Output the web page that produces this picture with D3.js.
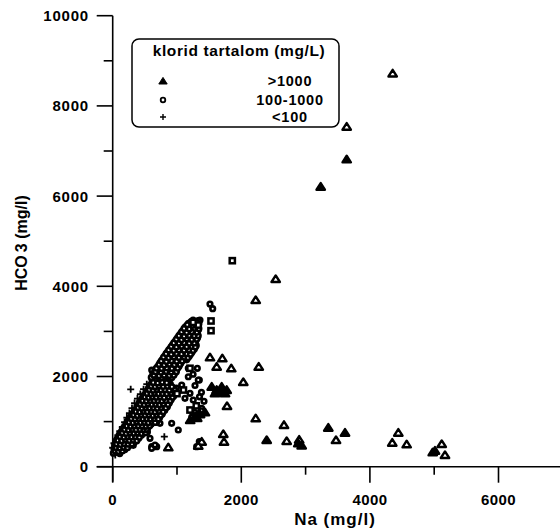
<!DOCTYPE html>
<html><head><meta charset="utf-8">
<script src="https://cdn.jsdelivr.net/npm/d3@7"></script>
<style>
body{margin:0;background:#fff;}
text{font-family:"Liberation Sans",Arial,sans-serif;font-weight:bold;fill:#000;}
</style></head><body>
<svg id="c" width="560" height="529"></svg>
<script>
// Na (mg/l), HCO3 (mg/l)
const triOpen = [[4354,8720],[3639,7539],[2535,4162],[2224,3696],[1513,2426],[1705,2404],[1617,2217],[1844,2182],[2271,2217],[2031,1878],[1778,1346],[2224,1073],[2664,925],[2706,570],[1720,725],[1731,554],[1384,554],[1331,466],[865,430],[3473,592],[4442,754],[4348,532],[4572,497],[5117,503],[5168,259],[2900,600]];
const triFilled = [[3639,6816],[3235,6208],[2395,592],[3353,865],[3613,754],[5012,355],[4977,319],[1540,1774],[1617,1701],[1695,1774],[1773,1701],[1591,1627],[1747,1627],[1660,1660],[2886,518],[2939,470],[1283,1117],[1358,1161],[1435,1206],[1205,1035],[1314,1080]];
const circles = [[1513,3608],[1555,3503],[1176,2182],[1316,2182],[1347,1922],[607,2144],[736,2182],[607,443],[684,443],[580,924],[735,962],[917,962],[1020,814],[580,630],[606,408],[658,481],[114,740],[140,592],[1073,1811],[1202,1627],[1124,1516],[1331,1922],[1253,1479],[1384,1295],[1409,1184],[1347,554],[1306,443],[1202,3179],[1357,3252],[658,2144],[787,2182],[917,2144],[1176,1995],[1250,2050],[1280,1800],[1380,1650],[1420,1450],[1350,1550],[1210,1250],[1280,1200],[1230,1100],[1380,1240],
[10,300],[60,320],[110,290],
[20,390],[80,370],[140,400],[190,380],
[30,470],[90,450],[150,480],[210,455],[255,470],[320,475],
[50,540],[110,560],[170,530],[230,550],[290,545],[340,545],
[70,620],[130,640],[190,610],[250,630],[310,620],[360,640],[400,625],
[100,700],[160,720],[220,690],[280,710],[340,700],[400,715],[450,705],
[135,780],[195,800],[255,770],[315,790],[375,780],[435,795],[490,790],[540,770],
[170,860],[230,880],[290,850],[350,870],[410,860],[470,875],[495,850],[545,865],
[205,940],[265,960],[325,930],[385,950],[445,940],[505,955],[545,935],[600,945],
[240,1020],[300,1040],[360,1010],[420,1030],[480,1020],[540,1035],[585,1015],[640,1025],[690,1010],
[275,1100],[335,1120],[395,1090],[455,1110],[515,1100],[575,1115],[630,1095],[690,1105],[730,1090],
[310,1180],[370,1200],[430,1170],[490,1190],[550,1180],[610,1195],[670,1175],[720,1185],[770,1170],
[345,1260],[400,1280],[465,1250],[525,1270],[585,1260],[645,1275],[705,1255],[760,1265],[810,1250],
[380,1340],[440,1360],[500,1330],[560,1350],[620,1340],[680,1355],[745,1335],[800,1345],[850,1330],
[415,1420],[475,1440],[535,1410],[595,1430],[655,1420],[715,1435],[785,1415],[840,1425],[880,1410],
[450,1500],[510,1520],[570,1490],[630,1510],[690,1500],[750,1515],[820,1495],[870,1505],[910,1490],
[485,1580],[545,1600],[605,1570],[665,1590],[725,1580],[790,1595],[860,1575],[910,1585],[950,1570],
[520,1660],[580,1680],[640,1650],[700,1670],[760,1660],[830,1675],[900,1655],[950,1665],[990,1650],
[555,1740],[615,1760],[675,1730],[735,1750],[800,1740],[870,1755],[945,1735],[990,1745],
[590,1820],[650,1840],[710,1810],[775,1830],[840,1820],[895,1835],
[615,1900],[680,1920],[745,1890],[810,1910],[860,1895],
[40,345],[90,335],[150,350],
[50,425],[110,415],[170,430],[230,420],
[60,505],[120,495],[180,510],[240,500],[300,505],
[80,585],[140,575],[200,590],[260,580],[320,585],[375,575],
[115,665],[175,655],[235,670],[295,660],[355,665],[415,655],
[150,745],[210,735],[270,750],[330,740],[390,745],[450,735],[510,748],
[185,825],[245,815],[305,830],[365,820],[425,825],[485,815],[530,828],
[220,905],[280,895],[340,910],[400,900],[460,905],[520,895],[575,908],
[255,985],[315,975],[375,990],[435,980],[495,985],[555,975],[615,990],[660,980],
[290,1065],[350,1055],[410,1070],[470,1060],[530,1065],[590,1055],[650,1070],[710,1060],
[325,1145],[385,1135],[445,1150],[505,1140],[565,1145],[625,1135],[685,1150],[745,1140],
[360,1225],[420,1215],[480,1230],[540,1220],[600,1225],[660,1215],[720,1230],[785,1220],
[395,1305],[455,1295],[515,1310],[575,1300],[635,1305],[695,1295],[755,1310],[825,1300],
[430,1385],[490,1375],[550,1390],[610,1380],[670,1385],[730,1375],[790,1390],[860,1380],
[465,1465],[525,1455],[585,1470],[645,1460],[705,1465],[765,1455],[830,1470],[895,1460],
[500,1545],[560,1535],[620,1550],[680,1540],[740,1545],[800,1535],[870,1550],[930,1540],
[535,1625],[595,1615],[655,1630],[715,1620],[775,1625],[840,1615],[910,1630],[970,1620],
[570,1705],[630,1695],[690,1710],[750,1700],[815,1705],[880,1695],[960,1710],
[600,1785],[660,1775],[720,1790],[785,1780],[850,1785],[920,1775],
[630,1865],[700,1855],[770,1870],[840,1860],
[600,1980],[680,2000],[760,1970],[840,1990],[920,1980],
[625,2060],[710,2080],[790,2050],[870,2070],[960,2060],
[660,2140],[740,2160],[820,2130],[900,2150],[990,2140],
[700,2220],[780,2240],[860,2210],[940,2230],[1030,2220],
[735,2300],[815,2320],[895,2290],[975,2310],[1060,2300],
[775,2380],[855,2400],[935,2370],[1015,2390],[1100,2380],[1150,2370],
[810,2460],[890,2480],[970,2450],[1050,2470],[1130,2460],[1190,2450],
[850,2540],[930,2560],[1010,2530],[1090,2550],[1170,2540],[1230,2530],
[890,2620],[970,2640],[1050,2610],[1130,2630],[1210,2620],[1270,2610],
[930,2700],[1010,2720],[1090,2690],[1170,2710],[1250,2700],[1300,2690],
[970,2780],[1050,2800],[1130,2770],[1210,2790],[1290,2780],
[1010,2860],[1090,2880],[1170,2850],[1250,2870],[1320,2860],
[1050,2940],[1130,2960],[1210,2930],[1290,2950],
[1090,3020],[1170,3040],[1250,3010],[1330,3030],
[1130,3100],[1210,3120],[1290,3090],
[1180,3180],[1260,3200],[1340,3170],
[1250,3250],[1330,3240],
[640,2025],[720,2015],[800,2030],[880,2020],[950,2025],
[665,2105],[750,2095],[830,2110],[910,2100],[990,2105],
[680,2185],[760,2175],[840,2190],[920,2180],[1010,2185],
[720,2265],[800,2255],[880,2270],[960,2260],[1045,2265],
[755,2345],[835,2335],[915,2350],[995,2340],[1080,2345],
[790,2425],[870,2415],[950,2430],[1030,2420],[1115,2425],[1170,2415],
[830,2505],[910,2495],[990,2510],[1070,2500],[1150,2505],[1210,2495],
[870,2585],[950,2575],[1030,2590],[1110,2580],[1190,2585],[1250,2575],
[910,2665],[990,2655],[1070,2670],[1150,2660],[1230,2665],[1285,2655],
[950,2745],[1030,2735],[1110,2750],[1190,2740],[1270,2745],
[990,2825],[1070,2815],[1150,2830],[1230,2820],[1305,2825],
[1030,2905],[1110,2895],[1190,2910],[1270,2900],[1330,2905],
[1070,2985],[1150,2975],[1230,2990],[1310,2980],
[1110,3065],[1190,3055],[1270,3070],[1340,3060],
[1160,3145],[1240,3135],[1310,3150],
[1220,3215],[1300,3210]];
const squares = [[1860,4568],[1529,3231],[1529,3016],[1202,2182],[1202,1257],[1300,1350],[1330,3140],[1250,3200],[1100,1700],[1000,1620]];
const pluses = [[280,1716],[803,665],[40,260],[0,420],[20,520],[45,610],[80,700],[110,790],[150,880],[185,990],[220,1090],[260,1190],[300,1300],[340,1410],[385,1510],[430,1610],[480,1720],[530,1830]];
const xTicksMajor = [0,2000,4000,6000];
const xTicksMinor = [1000,3000,5000,7000];
const yTicksMajor = [0,2000,4000,6000,8000,10000];
const yTicksMinor = [1000,3000,5000,7000,9000];
const legendTitle = "klorid tartalom (mg/L)";
const legendLabels = [">1000","100-1000","<100"];

const svg = d3.select("#c");
const x = d3.scaleLinear().domain([0,7000]).range([112.7,562.8]);
const y = d3.scaleLinear().domain([0,10000]).range([466.7,15.7]);

const ax = svg.append("g").attr("stroke","#000").attr("stroke-width",1.6);
ax.append("line").attr("x1",x(0)-16).attr("x2",560).attr("y1",y(0)).attr("y2",y(0));
ax.append("line").attr("x1",x(0)).attr("x2",x(0)).attr("y1",y(10000)).attr("y2",y(0)+15);
xTicksMajor.forEach(v=>ax.append("line").attr("x1",x(v)).attr("x2",x(v)).attr("y1",y(0)).attr("y2",y(0)+16));
xTicksMinor.forEach(v=>ax.append("line").attr("x1",x(v)).attr("x2",x(v)).attr("y1",y(0)).attr("y2",y(0)+8));
yTicksMajor.forEach(v=>ax.append("line").attr("x1",x(0)-16).attr("x2",x(0)).attr("y1",y(v)).attr("y2",y(v)));
yTicksMinor.forEach(v=>ax.append("line").attr("x1",x(0)-9).attr("x2",x(0)).attr("y1",y(v)).attr("y2",y(v)));

svg.selectAll(".xl").data(xTicksMajor).join("text").attr("x",d=>x(d)).attr("y",505)
  .attr("text-anchor","middle").attr("font-size",15).attr("letter-spacing",0.4).text(d=>d);
svg.selectAll(".yl").data(yTicksMajor).join("text").attr("x",89).attr("y",d=>y(d)+5.5)
  .attr("text-anchor","end").attr("font-size",15).attr("letter-spacing",0.8).text(d=>d);
svg.append("text").attr("x",335).attr("y",525).attr("text-anchor","middle").attr("font-size",17).attr("letter-spacing",1).text("Na (mg/l)");
const yt = svg.append("text").attr("transform","translate(27,243) rotate(-90)").attr("text-anchor","middle").attr("font-size",16);
yt.append("tspan").text("HCO");
yt.append("tspan").attr("dx",3).text("3");
yt.append("tspan").text(" (mg/l)");

const marks = svg.append("g");
const triPath = "M0,-3.6L4.2,3L-4.2,3Z";
function drawTri(data, filled){
  marks.selectAll(null).data(data).join("path").attr("d",triPath)
   .attr("transform",d=>`translate(${x(d[0])},${y(d[1])})`)
   .attr("fill",filled?"#000":"#fff").attr("stroke","#000").attr("stroke-width",2.4).attr("stroke-linejoin","round");
}
marks.selectAll(null).data(pluses).join("path").attr("d","M-3.5,0H3.5M0,-3.5V3.5")
  .attr("transform",d=>`translate(${x(d[0])},${y(d[1])})`).attr("stroke","#000").attr("stroke-width",1.8);
marks.selectAll(null).data(circles).join("circle").attr("cx",d=>x(d[0])).attr("cy",d=>y(d[1])).attr("r",2.3)
  .attr("fill","#fff").attr("stroke","#000").attr("stroke-width",2.6);
marks.selectAll(null).data(squares).join("rect").attr("x",d=>x(d[0])-2.6).attr("y",d=>y(d[1])-2.6).attr("width",5.2).attr("height",5.2)
  .attr("fill","#fff").attr("stroke","#000").attr("stroke-width",2.5);
drawTri(triOpen,false);
drawTri(triFilled,true);

// legend
const lg = svg.append("g");
lg.append("rect").attr("x",132).attr("y",39).attr("width",207).attr("height",88).attr("rx",7)
  .attr("fill","#fff").attr("stroke","#000").attr("stroke-width",1.5);
lg.append("text").attr("x",239).attr("y",56).attr("text-anchor","middle").attr("font-size",15.5).attr("letter-spacing",0.6).text(legendTitle);
const ly = [81,100,117];
lg.append("path").attr("d",triPath).attr("transform",`translate(163,${ly[0]})`).attr("fill","#000").attr("stroke","#000").attr("stroke-width",1);
lg.append("circle").attr("cx",163).attr("cy",ly[1]).attr("r",2.3).attr("fill","#fff").attr("stroke","#000").attr("stroke-width",1.8);
lg.append("path").attr("d","M-3,0H3M0,-3V3").attr("transform",`translate(163,${ly[2]})`).attr("stroke","#000").attr("stroke-width",1.4);
lg.selectAll(".ll").data(legendLabels).join("text").attr("x",290).attr("y",(d,i)=>ly[i]+5)
  .attr("text-anchor","middle").attr("font-size",14.5).attr("letter-spacing",0.8).text(d=>d);
</script></body></html>
